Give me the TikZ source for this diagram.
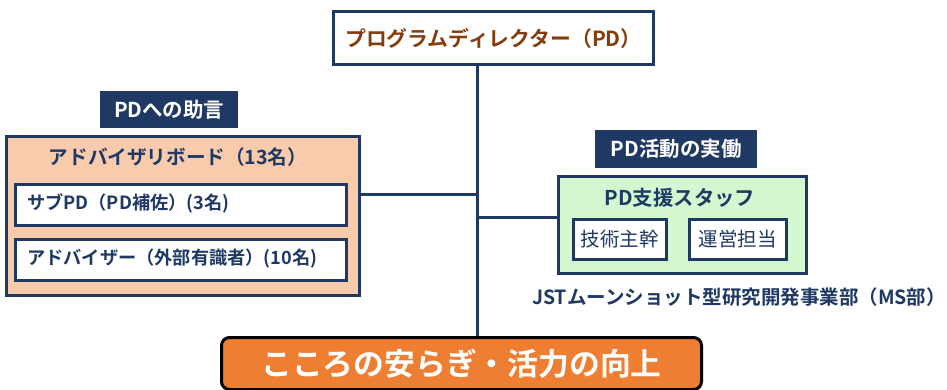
\documentclass[tikz,border=0pt]{standalone}
\usepackage{fontspec}
\setmainfont{Noto Sans CJK JP}
\newfontfamily\jpb{Noto Sans CJK JP Bold}
\definecolor{navy}{HTML}{1F3864}
\definecolor{brownt}{HTML}{843C0C}
\definecolor{peach}{HTML}{F8CBAD}
\definecolor{lgreen}{HTML}{D3F8CF}
\definecolor{orangef}{HTML}{EE7F32}
\tikzset{
  box/.style={draw=navy, line width=3pt, inner sep=0pt, anchor=north west},
  lbl/.style={fill=navy, text=white, inner sep=0pt, anchor=north west, font=\jpb\fontsize{20.5}{23}\selectfont},
  ibox/.style={draw=navy, line width=2.5pt, fill=white, inner sep=0pt, anchor=north west},
  conn/.style={draw=navy, line width=3pt}
}
\begin{document}
\begin{tikzpicture}[x=1pt,y=-1pt]
\useasboundingbox (0,0) rectangle (947,389);
% PD
\node[box, fill=white, minimum width=320pt, minimum height=53pt, text=brownt, font=\jpb\fontsize{20.8}{23}\selectfont] (pd) at (332,10) {プログラムディレクター（PD）};
% labels
\node[lbl, minimum width=138pt, minimum height=37pt] (l1) at (100,91) {PDへの助言};
\node[lbl, minimum width=162pt, minimum height=38pt] (l2) at (595,130) {PD活動の実働};
% advisory board
\node[box, fill=peach, minimum width=353pt, minimum height=159pt] (adv) at (5,135) {};
\node[text=navy, font=\jpb\fontsize{19.6}{22}\selectfont] (advt) at (178,157) {アドバイザリボード（13名）};
\node[ibox, minimum width=331pt, minimum height=41pt] (sub) at (14,183) {};
\node[text=navy, font=\jpb\fontsize{18.2}{21}\selectfont, anchor=west, inner sep=0pt] (subt) at (27,203.5) {サブPD（PD補佐）(3名)};
\node[ibox, minimum width=331pt, minimum height=41pt] (advr) at (14,238) {};
\node[text=navy, font=\jpb\fontsize{18.2}{21}\selectfont, anchor=west, inner sep=0pt] (advrt) at (27,258.5) {アドバイザー（外部有識者）(10名)};
% support staff
\node[box, fill=lgreen, minimum width=248pt, minimum height=97pt] (grn) at (557,175) {};
\node[text=navy, font=\jpb\fontsize{20.4}{23}\selectfont] (grnt) at (680,198) {PD支援スタッフ};
\node[ibox, minimum width=93pt, minimum height=40pt, text=navy, font=\fontsize{19.5}{22}\selectfont] (tech) at (572,218) {技術主幹};
\node[ibox, minimum width=97pt, minimum height=40pt, text=navy, font=\fontsize{19.5}{22}\selectfont] (ops) at (688,218) {運営担当};
\node[text=navy, font=\jpb\fontsize{19.5}{22}\selectfont] (jst) at (739,297) {JSTムーンショット型研究開発事業部（MS部）};
% goal
\node[draw=black, line width=3pt, fill=orangef, rounded corners=8pt, minimum width=480pt, minimum height=52pt, anchor=north west, inner sep=0pt, text=white, font=\jpb\fontsize{30.8}{35}\selectfont] (goal) at (220,336) {こころの安らぎ・活力の向上};
% connectors
\coordinate (j1) at (477,194);
\coordinate (j2) at (477,217);
\draw[conn] (pd.south -| j1) -- (goal.north -| j1);
\draw[conn] (adv.east |- j1) -- (j1);
\draw[conn] (j2) -- (grn.west |- j2);
\end{tikzpicture}
\end{document}
